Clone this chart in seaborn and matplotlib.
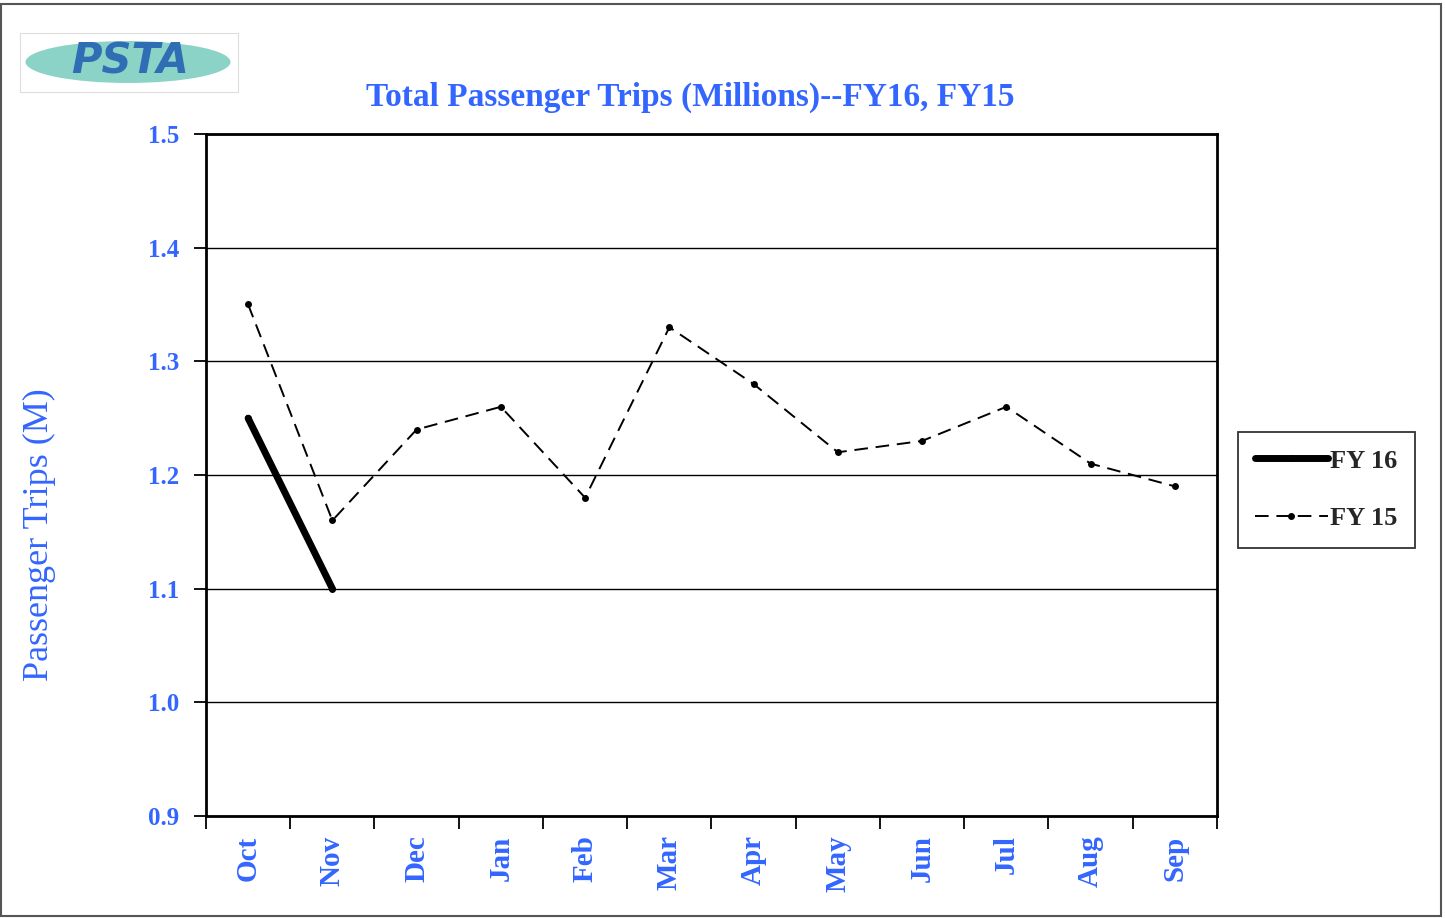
import numpy as np
import pandas as pd
import matplotlib
matplotlib.use("Agg")
import matplotlib.pyplot as plt
from matplotlib.patches import Ellipse, Rectangle
import seaborn as sns

months = ["Oct", "Nov", "Dec", "Jan", "Feb", "Mar", "Apr", "May", "Jun", "Jul", "Aug", "Sep"]
fy15 = [1.35, 1.16, 1.24, 1.26, 1.18, 1.33, 1.28, 1.22, 1.23, 1.26, 1.21, 1.19]
fy16 = [1.25, 1.10]
yticks = [0.9, 1.0, 1.1, 1.2, 1.3, 1.4, 1.5]

title = "Total Passenger Trips (Millions)--FY16, FY15"
ylabel = "Passenger Trips (M)"
BLUE = "#3366FF"

sns.set_theme(style="white")
plt.rcParams["font.family"] = ["Liberation Serif", "DejaVu Serif"]

fig = plt.figure(figsize=(14.45, 9.18), dpi=100)
ax = fig.add_axes([206 / 1445, 1 - 816 / 918, (1217 - 206) / 1445, (816 - 134) / 918])

pos = np.arange(len(months)) + 0.5
df15 = pd.DataFrame({"x": pos, "y": fy15, "s": "FY 15"})
df16 = pd.DataFrame({"x": pos[:len(fy16)], "y": fy16, "s": "FY 16"})

sns.lineplot(data=df16, x="x", y="y", ax=ax, color="black", linewidth=5,
             marker="o", markersize=5, markeredgewidth=0, label="FY 16", zorder=4)
sns.lineplot(data=df15, x="x", y="y", ax=ax, color="black", linewidth=1.4,
             linestyle=(0, (7, 4)), marker="o", markersize=5, markeredgewidth=0,
             label="FY 15", zorder=3)

ax.set_xlim(0, len(months))
ax.set_ylim(0.9, 1.5)
ax.set_yticks(yticks)
ax.set_yticklabels([f"{v:.1f}" for v in yticks], color=BLUE, fontweight="bold", fontsize=18)
ax.set_xticks(np.arange(len(months) + 1))
ax.set_xticklabels([])
ax.set_xticks(pos, minor=True)
ax.set_xticklabels(months, minor=True, rotation=90, color=BLUE, fontweight="bold", fontsize=21)
ax.tick_params(axis="x", which="minor", length=0, pad=14)
ax.tick_params(axis="x", which="major", direction="out", length=9, width=1.3, color="black", bottom=True)
ax.tick_params(axis="y", which="major", direction="out", length=9, width=1.3, color="black", left=True, pad=10)
ax.yaxis.grid(True, color="black", linewidth=1.0)
ax.xaxis.grid(False)
for sp in ax.spines.values():
    sp.set_color("black")
    sp.set_linewidth(2)
ax.set_xlabel("")
ax.set_ylabel("")

leg = ax.legend(loc="upper left",
                bbox_to_anchor=((1238 - 206) / 1011, 1 - (432 - 134) / 682),
                borderaxespad=0, frameon=True, fancybox=False, edgecolor="black",
                prop={"weight": "bold", "size": 19}, handlelength=2.75, handletextpad=0.1,
                labelspacing=1.3, borderpad=0.65)
leg.get_frame().set_linewidth(1.3)

fig.text(690 / 1445, 1 - 97 / 918, title, color=BLUE, fontsize=24, fontweight="bold",
         ha="center", va="center")
fig.text(39 / 1445, 1 - 535 / 918, ylabel, color=BLUE, fontsize=26, rotation=90,
         ha="center", va="center")

# logo
fig.patches.append(Rectangle((20 / 1445, 1 - 92 / 918), 218 / 1445, 59 / 918, transform=fig.transFigure,
                             facecolor="white", edgecolor="#dddddd", linewidth=0.8))
fig.patches.append(Ellipse((128 / 1445, 1 - 62 / 918), 205 / 1445, 42 / 918, transform=fig.transFigure,
                           facecolor="#7fcfc0", edgecolor="none", alpha=0.9))
fig.text(130 / 1445, 1 - 62 / 918, "PSTA", color="#2f6db5", fontsize=30, fontweight="bold",
         fontstyle="italic", family="DejaVu Sans", ha="center", va="center")

# outer border
fig.patches.append(Rectangle((1 / 1445, 2 / 918), 1440 / 1445, 912 / 918, transform=fig.transFigure,
                             facecolor="none", edgecolor="#555555", linewidth=1.5))

fig.savefig("out.png", dpi=100)
